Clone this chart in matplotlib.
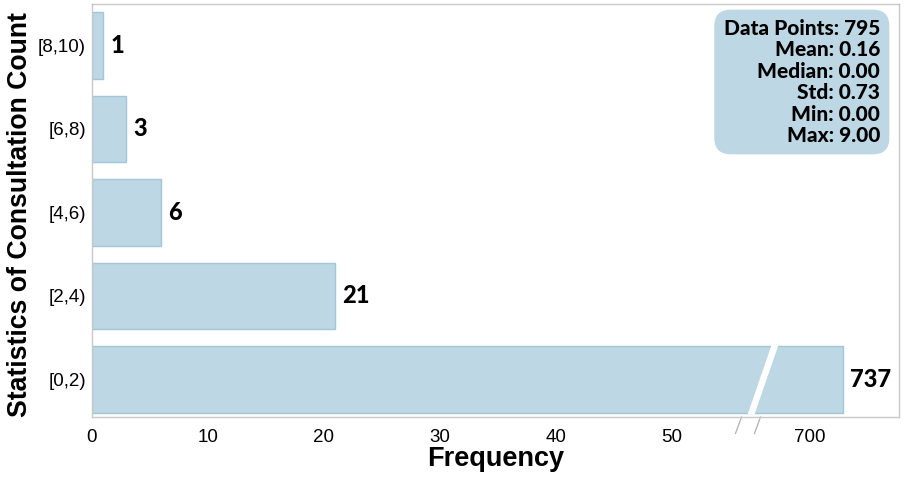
import numpy as np
import matplotlib
matplotlib.use("Agg")
import matplotlib.pyplot as plt
from matplotlib.patches import Polygon
import matplotlib.transforms as mtransforms

categories = ["[0,2)", "[2,4)", "[4,6)", "[6,8)", "[8,10)"]
counts = [737, 21, 6, 3, 1]
stats_lines = ["Data Points: 795", "Mean: 0.16", "Median: 0.00",
               "Std: 0.73", "Min: 0.00", "Max: 9.00"]
xtick_vals = [0, 10, 20, 30, 40, 50, 700]

# piecewise (broken) x scale
_xs = np.array([-1000.0, 0.0, 57.0, 650.0, 800.0, 3000.0])
_us = np.array([-1000.0, 0.0, 57.0, 58.0, 69.55, 69.55 + 2200 * 0.077])

def fwd(x):
    return np.interp(x, _xs, _us)

def inv(u):
    return np.interp(u, _us, _xs)

fig = plt.figure(figsize=(9.13, 4.84), dpi=100)
ax = fig.add_axes([91.5 / 913, 1 - 417 / 484, (899 - 91.5) / 913, (417 - 3.7) / 484])
ax.set_xscale("function", functions=(fwd, inv))

bar_face = "#bdd7e4"
bar_edge = "#a3c6d8"
ypos = np.arange(len(categories))
ax.barh(ypos, counts, height=0.8, color=bar_face, edgecolor=bar_edge, linewidth=1)

for y, c in zip(ypos, counts):
    ax.annotate(str(c), xy=(c, y), xytext=(5, 0), textcoords="offset points",
                ha="left", va="center", fontsize=17, fontweight="black",
                family="Lato", color="black")

ax.set_xlim(0, 800)
ax.set_ylim(-0.45, 4.5)
ax.set_yticks(ypos)
ax.set_yticklabels(categories, family="Liberation Sans", fontsize=13.5)
ax.set_xticks(xtick_vals)
ax.set_xticklabels([str(v) for v in xtick_vals], family="Liberation Sans", fontsize=13.5)
ax.tick_params(axis="both", length=0)
ax.tick_params(axis="x", pad=9)
ax.tick_params(axis="y", pad=4)
for s in ax.spines.values():
    s.set_color("#c8c8c8")
    s.set_linewidth(1)

ax.set_xlabel("Frequency", family="Liberation Sans", fontsize=19.5, fontweight="bold", labelpad=0)
ax.set_ylabel("Statistics of Consultation Count", family="Liberation Sans",
              fontsize=19.2, fontweight="bold")
ax.yaxis.set_label_coords(-0.0725, 0.491)

# break decoration: white slanted gap in the large bar
trans = mtransforms.blended_transform_factory(ax.transAxes, ax.transData)
x_lo, x_hi = 0.8125, 0.8425  # axes fraction at bottom / top of bar
w = 0.0085
yb, yt = -0.42, 0.42
gap = Polygon([(x_lo, yb), (x_lo + w, yb), (x_hi + w, yt), (x_hi, yt)],
              closed=True, transform=trans, facecolor="white", edgecolor="none", zorder=3)
ax.add_patch(gap)

# slash marks under the axis
for xa in [0.8050, 0.8285]:
    ax.plot([xa, xa - 0.0075], [0.0, -0.04], transform=ax.transAxes,
            color="#b0b0b0", lw=0.9, clip_on=False)

# stats box
ax.text(0.9765, 0.963, "\n".join(stats_lines), transform=ax.transAxes,
        ha="right", va="top", fontsize=15, fontweight="black", family="Lato",
        linespacing=1.15, multialignment="right",
        bbox=dict(boxstyle="round,pad=0.45,rounding_size=0.8", facecolor=bar_face,
                  edgecolor="none"))

fig.savefig("out.png", dpi=100)
